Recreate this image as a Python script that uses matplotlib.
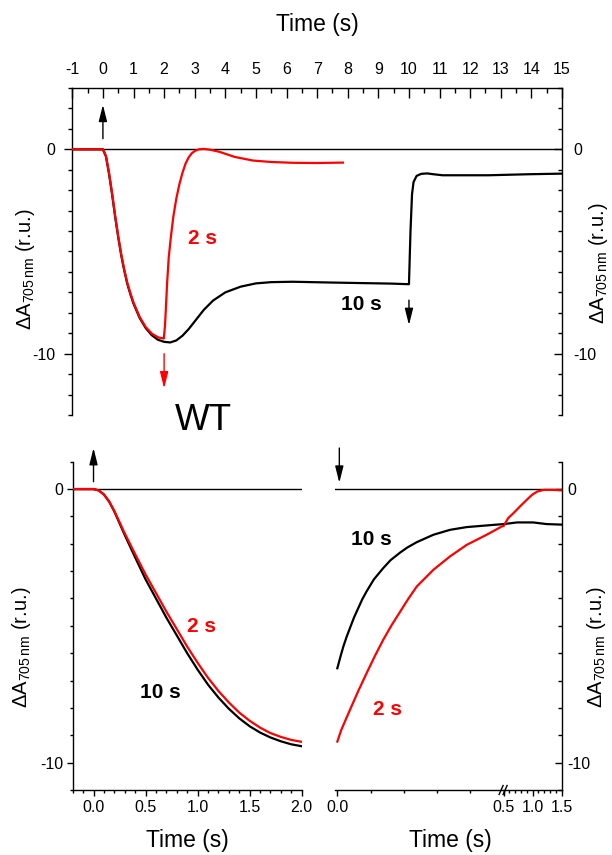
import matplotlib
matplotlib.use('Agg')
import matplotlib.pyplot as plt
from matplotlib.ticker import MultipleLocator, FixedLocator
from matplotlib.lines import Line2D

plt.rcParams['font.family'] = ['Liberation Sans', 'DejaVu Sans']
plt.rcParams['mathtext.fontset'] = 'custom'
plt.rcParams['mathtext.rm'] = 'Liberation Sans'
plt.rcParams['mathtext.it'] = 'Liberation Sans:italic'
plt.rcParams['mathtext.bf'] = 'Liberation Sans:bold'
plt.rcParams['axes.unicode_minus'] = False

# ---------------- data ----------------
# top panel: full trace, 10 s and 2 s illumination
top_t_10s = [-1, 0, 0.1, 0.2, 0.3, 0.4, 0.5, 0.6, 0.7, 0.8, 0.9, 1.0, 1.2, 1.4, 1.6, 1.8, 2.0,
             2.2, 2.4, 2.6, 2.8, 3.0, 3.3, 3.6, 4.0, 4.5, 5.0, 5.5, 6.2, 7.5, 9.4, 10.0,
             10.05, 10.1, 10.15, 10.25, 10.4, 10.6, 10.8, 11.1, 12.6, 13.9, 15]
top_v_10s = [0, 0, -0.35, -1.2, -2.2, -3.3, -4.3, -5.2, -5.95, -6.6, -7.1, -7.55, -8.25, -8.75,
             -9.1, -9.32, -9.42, -9.45, -9.35, -9.12, -8.8, -8.42, -7.85, -7.4, -7.0, -6.72,
             -6.56, -6.5, -6.48, -6.52, -6.57, -6.6,
             -4.0, -2.2, -1.6, -1.3, -1.2, -1.18, -1.22, -1.27, -1.27, -1.22, -1.19]
top_t_2s = [-1, 0, 0.1, 0.2, 0.3, 0.4, 0.5, 0.6, 0.7, 0.8, 0.9, 1.0, 1.2, 1.4, 1.6, 1.8, 1.99,
            2.03, 2.06, 2.1, 2.15, 2.22, 2.3, 2.4, 2.5, 2.6, 2.7, 2.8, 2.9, 3.0, 3.14, 3.3,
            3.5, 3.8, 4.3, 4.9, 5.5, 6.2, 7.0, 7.84]
top_v_2s = [0, 0, -0.33, -1.15, -2.15, -3.25, -4.25, -5.15, -5.9, -6.55, -7.05, -7.5, -8.2,
            -8.7, -9.02, -9.2, -9.26, -8.6, -7.7, -6.5, -5.3, -4.3, -3.3, -2.4, -1.7, -1.15,
            -0.7, -0.4, -0.2, -0.08, 0.0, 0.02, -0.02, -0.12, -0.37, -0.55, -0.62, -0.66,
            -0.67, -0.65]

# bottom-left: light on (0-2 s)
on_t = [-0.2, 0.0, 0.05, 0.1, 0.15, 0.2, 0.3, 0.4, 0.5, 0.6, 0.7, 0.8, 0.9, 1.0, 1.1, 1.2,
        1.3, 1.4, 1.5, 1.6, 1.7, 1.8, 1.9, 2.0]
on_v_10s = [0, 0, -0.05, -0.2, -0.46, -0.82, -1.68, -2.5, -3.3, -4.0, -4.7, -5.35, -6.0, -6.6,
            -7.15, -7.62, -8.03, -8.38, -8.67, -8.9, -9.08, -9.22, -9.33, -9.40]
on_v_2s = [0, 0, -0.05, -0.2, -0.45, -0.8, -1.62, -2.38, -3.12, -3.8, -4.48, -5.12, -5.76,
           -6.35, -6.9, -7.38, -7.8, -8.17, -8.47, -8.72, -8.92, -9.06, -9.17, -9.24]

# bottom-right: light off (broken time axis)
off_t_10s = [0, 0.01, 0.018, 0.028, 0.038, 0.05, 0.063, 0.075, 0.088, 0.11, 0.138, 0.16, 0.189,
             0.21, 0.239, 0.289, 0.339, 0.389, 0.449, 0.5, 0.58, 0.73, 1.01, 1.24, 1.5]
off_v_10s = [-6.55, -6.1, -5.76, -5.4, -5.08, -4.7, -4.35, -4.03, -3.74, -3.3, -2.89, -2.6,
             -2.32, -2.14, -1.94, -1.67, -1.49, -1.39, -1.33, -1.28, -1.26, -1.22, -1.22,
             -1.28, -1.30]
off_t_2s = [0, 0.012, 0.038, 0.063, 0.088, 0.113, 0.138, 0.163, 0.189, 0.214, 0.239, 0.289,
            0.339, 0.389, 0.449, 0.494, 0.58, 0.67, 0.78, 0.90, 0.99, 1.08, 1.19, 1.36, 1.5]
off_v_2s = [-9.23, -8.80, -8.07, -7.38, -6.73, -6.1, -5.51, -4.98, -4.48, -4.0, -3.56, -2.95,
            -2.46, -2.04, -1.67, -1.37, -1.06, -0.88, -0.64, -0.39, -0.21, -0.09, -0.03,
            -0.03, -0.05]

top_xticks = list(range(-1, 16))
yticks_major = [0, -10]
on_xticks = [0.0, 0.5, 1.0, 1.5, 2.0]
off_xticks_a = [0.0, 0.5]
off_xticks_b = [1.0, 1.5]

RED = '#ff0000'
ylab = r'$\mathregular{\Delta A_{705\,nm}}$ (r.u.)'

W, H = 612, 855
fig = plt.figure(figsize=(W / 100, H / 100), dpi=100)


def rect(l, r, t, b):
    return [l / W, 1 - b / H, (r - l) / W, (b - t) / H]


TL = 11.5  # tick label size
LW = 1.6

# ---------------- top panel ----------------
ax = fig.add_axes(rect(72.3, 562, 88, 415))
ax.set_xlim(-1, 15)
ax.set_ylim(-13, 3)
ax.axhline(0, color='black', lw=1.0, zorder=1)
ax.plot(top_t_10s, top_v_10s, color='black', lw=LW, zorder=3)
ax.plot(top_t_2s, top_v_2s, color=RED, lw=LW, zorder=4)
for s in ('bottom', 'right'):
    ax.spines[s].set_visible(False)
for s in ('top', 'left'):
    ax.spines[s].set_linewidth(1.0)
ax.xaxis.set_major_locator(FixedLocator(top_xticks))
ax.xaxis.set_minor_locator(MultipleLocator(0.5))
ax.tick_params(axis='x', which='both', top=True, bottom=False, labeltop=True,
               labelbottom=False, direction='in')
ax.tick_params(axis='x', which='major', length=7, width=1, pad=8, labelsize=TL)
ax.tick_params(axis='x', which='minor', length=3.5, width=1)
ax.yaxis.set_major_locator(FixedLocator(yticks_major))
ax.yaxis.set_minor_locator(MultipleLocator(1))
ax.tick_params(axis='y', which='both', left=True, right=False, direction='out')
ax.tick_params(axis='y', which='major', length=6, width=1, pad=6, labelsize=TL)
ax.tick_params(axis='y', which='minor', length=3, width=1)
ax.set_ylabel(ylab, fontsize=14.5)
ax.yaxis.set_label_coords(-0.072, 0.445)

axr = ax.twinx()
axr.set_ylim(-13, 3)
for s in ('bottom', 'left', 'top'):
    axr.spines[s].set_visible(False)
axr.spines['right'].set_linewidth(1.0)
axr.yaxis.set_major_locator(FixedLocator(yticks_major))
axr.yaxis.set_minor_locator(MultipleLocator(1))
axr.tick_params(axis='y', which='both', direction='in')
axr.tick_params(axis='y', which='major', length=6, width=1, pad=8, labelsize=TL)
axr.tick_params(axis='y', which='minor', length=3, width=1)
axr.set_ylabel(ylab, fontsize=14.5, rotation=90)
axr.yaxis.set_label_coords(1.051, 0.465)

arrow_kw = dict(arrowstyle='-|>,head_length=1.0,head_width=0.25', lw=1.0,
                mutation_scale=10, shrinkA=0, shrinkB=0)
ax.annotate('', xy=(0, 2.18), xytext=(0, 0.52), arrowprops=dict(color='black', **arrow_kw))
ax.annotate('', xy=(2.0, -11.7), xytext=(2.0, -10.0), arrowprops=dict(color=RED, **arrow_kw))
ax.annotate('', xy=(10.0, -8.6), xytext=(10.0, -7.38), arrowprops=dict(color='black', **arrow_kw))
ax.text(3.24, -4.37, '2 s', color=RED, fontsize=15, fontweight='bold', ha='center', va='center')
ax.text(8.44, -7.58, '10 s', color='black', fontsize=15, fontweight='bold', ha='center', va='center')

fig.text(317 / W, 1 - 25 / H, 'Time (s)', fontsize=16.5, ha='center', va='center')
fig.text(203 / W, 1 - 420 / H, 'WT', fontsize=26.5, ha='center', va='center')

# ---------------- bottom-left panel ----------------
bl = fig.add_axes(rect(72.7, 301.7, 461.7, 790))
bl.set_xlim(-0.2, 2.0)
bl.set_ylim(-11, 1)
bl.axhline(0, color='black', lw=1.0, zorder=1)
bl.plot(on_t, on_v_10s, color='black', lw=LW, zorder=3)
bl.plot(on_t, on_v_2s, color=RED, lw=LW, zorder=4)
for s in ('top', 'right'):
    bl.spines[s].set_visible(False)
for s in ('bottom', 'left'):
    bl.spines[s].set_linewidth(1.0)
bl.xaxis.set_major_locator(FixedLocator(on_xticks))
bl.xaxis.set_minor_locator(MultipleLocator(0.1))
bl.yaxis.set_major_locator(FixedLocator(yticks_major))
bl.yaxis.set_minor_locator(MultipleLocator(1))
bl.tick_params(which='both', direction='out', width=1)
bl.tick_params(which='major', length=4.5, pad=2.5, labelsize=TL)
bl.tick_params(which='minor', length=2.5)
bl.xaxis.set_major_formatter(plt.FormatStrFormatter('%.1f'))
bl.set_ylabel(ylab, fontsize=14.5)
bl.yaxis.set_label_coords(-0.173, 0.436)
bl.annotate('', xy=(0.0, 1.5), xytext=(0.0, 0.27), annotation_clip=False,
            arrowprops=dict(color='black', **arrow_kw))
bl.text(1.04, -5.04, '2 s', color=RED, fontsize=15, fontweight='bold', ha='center', va='center')
bl.text(0.64, -7.45, '10 s', color='black', fontsize=15, fontweight='bold', ha='center', va='center')
fig.text(187 / W, 1 - 840 / H, 'Time (s)', fontsize=16.5, ha='center', va='center')

# ---------------- bottom-right panel (broken axis) ----------------
bra = fig.add_axes(rect(335, 503.6, 461.7, 790))
brb = fig.add_axes(rect(503.6, 561.7, 461.7, 790))
for a, xl in ((bra, (-0.007, 0.5)), (brb, (0.5, 1.5))):
    a.set_xlim(*xl)
    a.set_ylim(-11, 1)
    a.axhline(0, color='black', lw=1.0, zorder=1)
    a.plot(off_t_10s, off_v_10s, color='black', lw=LW, zorder=3)
    a.plot(off_t_2s, off_v_2s, color=RED, lw=LW, zorder=4)
    a.spines['top'].set_visible(False)
    a.spines['left'].set_visible(False)
    a.spines['bottom'].set_linewidth(1.0)
    a.xaxis.set_minor_locator(MultipleLocator(0.1))
    a.xaxis.set_major_formatter(plt.FormatStrFormatter('%.1f'))
    a.tick_params(axis='x', which='both', direction='out', width=1)
    a.tick_params(axis='x', which='major', length=4.5, pad=2.5, labelsize=TL)
    a.tick_params(axis='x', which='minor', length=2.5)
bra.spines['right'].set_visible(False)
bra.xaxis.set_major_locator(FixedLocator(off_xticks_a))
bra.tick_params(axis='y', which='both', left=False, labelleft=False)
brb.xaxis.set_major_locator(FixedLocator(off_xticks_b))
brb.tick_params(axis='x', which='minor', length=2)
brb.spines['right'].set_linewidth(1.0)
brb.yaxis.set_major_locator(FixedLocator(yticks_major))
brb.yaxis.set_minor_locator(MultipleLocator(1))
brb.tick_params(axis='y', which='both', left=False, labelleft=False, right=True,
                labelright=True, direction='in', width=1)
brb.tick_params(axis='y', which='major', length=5, pad=4, labelsize=TL)
brb.tick_params(axis='y', which='minor', length=3)
brb.yaxis.set_label_position('right')
brb.set_ylabel(ylab, fontsize=14.5, rotation=90)
brb.yaxis.set_label_coords(1.40, 0.436)

bra.annotate('', xy=(0.006, 0.23), xytext=(0.006, 1.5), annotation_clip=False,
             arrowprops=dict(color='black', **arrow_kw))
bra.text(0.103, -1.83, '10 s', color='black', fontsize=15, fontweight='bold', ha='center', va='center')
bra.text(0.151, -8.05, '2 s', color=RED, fontsize=15, fontweight='bold', ha='center', va='center')
fig.text(450 / W, 1 - 840 / H, 'Time (s)', fontsize=16.5, ha='center', va='center')

# break marks on the time axis
bx, by = 503.6, 790
for dx in (-2.5, 1.5):
    fig.add_artist(Line2D([(bx + dx - 2) / W, (bx + dx + 2) / W],
                          [1 - (by + 4.5) / H, 1 - (by - 4.5) / H],
                          transform=fig.transFigure, color='black', lw=1.0))

fig.savefig('out.png', dpi=100)
